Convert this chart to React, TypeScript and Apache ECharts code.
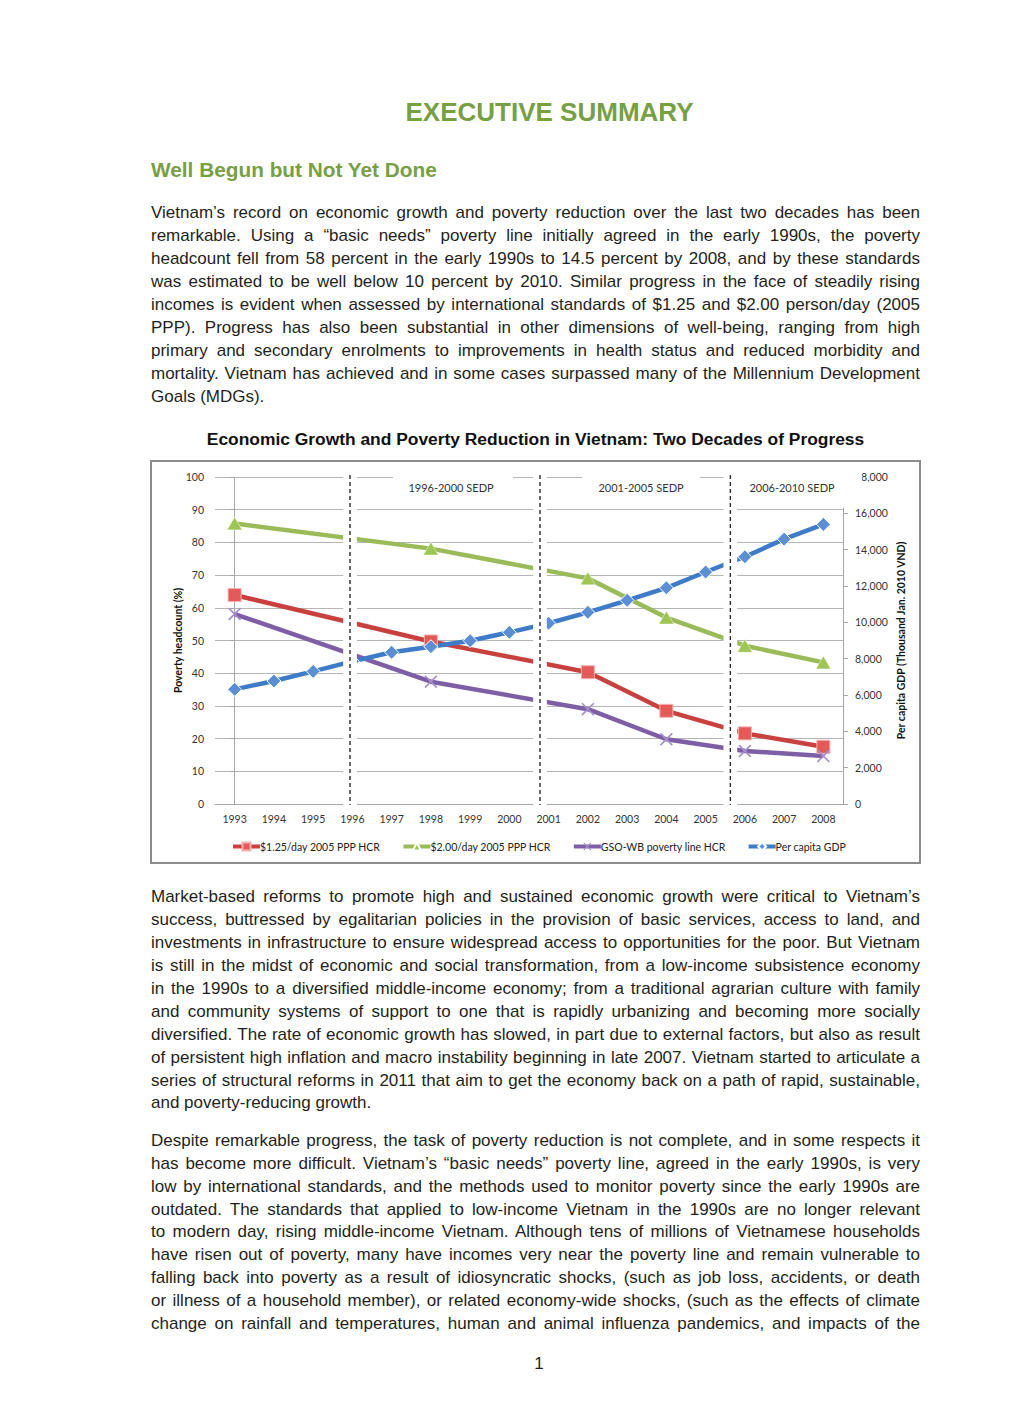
import React, { useEffect, useRef } from 'react';
import * as echarts from 'echarts';

// ---------- chart data ----------
const years = ['1993', '1994', '1995', '1996', '1997', '1998', '1999', '2000', '2001', '2002', '2003', '2004', '2005', '2006', '2007', '2008'];
const hcr125 = [63.9, null, null, null, null, 49.7, null, null, null, 40.3, null, 28.5, null, 21.6, null, 17.5];
const hcr200 = [85.8, null, null, null, null, 78.1, null, null, null, 69.0, null, 57.0, null, 48.4, null, 43.3];
const gsoWb = [58.1, null, null, null, null, 37.4, null, null, null, 29.0, null, 19.8, null, 16.2, null, 14.7];
const gdp = [6310, 6770, 7300, 7850, 8350, 8660, 8990, 9450, 9950, 10550, 11210, 11900, 12770, 13610, 14580, 15390];
const seriesNames = ['$1.25/day 2005 PPP HCR', '$2.00/day 2005 PPP HCR', 'GSO-WB poverty line HCR', 'Per capita GDP'];
const planLabels = ['1996-2000 SEDP', '2001-2005 SEDP', '2006-2010 SEDP'];
// period dividers, in category-index units (0 = 1993)
const dividers = [2.94, 7.78, 12.63];

// ---------- page text ----------
const para1 = [
  'Vietnam’s record on economic growth and poverty reduction over the last two decades has been',
  'remarkable.  Using a “basic needs” poverty line initially agreed in the early 1990s, the poverty',
  'headcount fell from 58 percent in the early 1990s to 14.5 percent by 2008, and by these standards',
  'was estimated to be well below 10 percent by 2010.  Similar progress in the face of steadily rising',
  'incomes is evident when assessed by international standards of $1.25 and $2.00 person/day (2005',
  'PPP).  Progress has also been substantial in other dimensions of well-being, ranging from high',
  'primary and secondary enrolments to improvements in health status and reduced morbidity and',
  'mortality. Vietnam has achieved and in some cases surpassed many of the Millennium Development',
  'Goals (MDGs).',
];
const para2 = [
  'Market-based reforms to promote high and sustained economic growth were critical to Vietnam’s',
  'success, buttressed by egalitarian policies in the provision of basic services, access to land, and',
  'investments in infrastructure to ensure widespread access to opportunities for the poor. But Vietnam',
  'is still in the midst of economic and social transformation, from a low-income subsistence economy',
  'in the 1990s to a diversified middle-income economy; from a traditional agrarian culture with family',
  'and community systems of support to one that is rapidly urbanizing and becoming more socially',
  'diversified. The rate of economic growth has slowed, in part due to external factors, but also as result',
  'of persistent high inflation and macro instability beginning in late 2007. Vietnam started to articulate a',
  'series of structural reforms in 2011 that aim to get the economy back on a path of rapid, sustainable,',
  'and poverty-reducing growth.',
];
const para3 = [
  'Despite remarkable progress, the task of poverty reduction is not complete, and in some respects it',
  'has become more difficult. Vietnam’s “basic needs” poverty line, agreed in the early 1990s, is very',
  'low by international standards, and the methods used to monitor poverty since the early 1990s are',
  'outdated. The standards that applied to low-income Vietnam in the 1990s are no longer relevant',
  'to modern day, rising middle-income Vietnam. Although tens of millions of Vietnamese households',
  'have risen out of poverty, many have incomes very near the poverty line and remain vulnerable to',
  'falling back into poverty as a result of idiosyncratic shocks, (such as job loss, accidents, or death',
  'or illness of a household member), or related economy-wide shocks, (such as the effects of climate',
  'change on rainfall and temperatures, human and animal influenza pandemics, and impacts of the',
];

const GREEN = '#77a043';
const TEXT = '#231f20';
const SANS = '"Liberation Sans", Arial, Helvetica, sans-serif';
const CHART_FONT = 'Lato, "Open Sans", sans-serif';

const X_PATH = 'path://M0,0.9L0.9,0L5,4.1L9.1,0L10,0.9L5.9,5L10,9.1L9.1,10L5,5.9L0.9,10L0,9.1L4.1,5Z';

function Paragraph({ lines, top, step, lastJustified }: { lines: string[]; top: number; step: number; lastJustified: boolean }) {
  return (
    <>
      {lines.map((ln, i) => {
        const justify = i < lines.length - 1 || lastJustified;
        return (
          <div
            key={i}
            style={{
              position: 'absolute',
              left: 151,
              top: top + i * step,
              width: 769,
              height: step,
              lineHeight: step + 'px',
              fontSize: 17,
              color: TEXT,
              textAlign: justify ? 'justify' : 'left',
              textAlignLast: justify ? 'justify' : 'left',
              wordSpacing: justify ? '-1.5px' : undefined,
            } as React.CSSProperties}
          >
            {ln}
          </div>
        );
      })}
    </>
  );
}

function Chart() {
  const ref = useRef<HTMLDivElement>(null);
  useEffect(() => {
    if (!ref.current) return;
    const chart = echarts.init(ref.current, undefined, { renderer: 'svg' });
    const lineBase = (name: string, data: (number | null)[], color: string, yAxisIndex: number) => ({
      name,
      type: 'line',
      data,
      yAxisIndex,
      xAxisIndex: 0,
      connectNulls: true,
      z: 2,
      lineStyle: { color, width: 4.5 },
    });
    const option: any = {
      animation: false,
      textStyle: { fontFamily: CHART_FONT },
      grid: { left: 63, right: 76, top: 15, bottom: 58 },
      legend: {
        data: seriesNames,
        left: 79,
        top: 379,
        padding: 0,
        itemWidth: 27,
        itemHeight: 10,
        itemGap: 21,
        lineStyle: { width: 4 },
        textStyle: { fontFamily: CHART_FONT, fontSize: 10.5, color: '#222', padding: [0, 0, 0, -5] },
      },
      xAxis: [
        {
          type: 'category',
          data: years,
          boundaryGap: true,
          axisLine: { show: true, lineStyle: { color: '#a6a6a6', width: 1 } },
          axisTick: { show: false },
          axisLabel: { color: '#333', fontSize: 10.5, margin: 9, fontFamily: CHART_FONT },
        },
        { type: 'value', min: -0.5, max: 15.5, show: false },
      ],
      yAxis: [
        {
          type: 'value',
          min: 0,
          max: 100,
          interval: 10,
          name: 'Poverty headcount (%)',
          nameLocation: 'middle',
          nameRotate: 90,
          nameGap: 32,
          nameMoveOverlap: false,
          nameTextStyle: { fontFamily: CHART_FONT, fontWeight: 'bold', fontSize: 10.5, color: '#111' },
          axisLine: { show: true, lineStyle: { color: '#a6a6a6' } },
          axisTick: { show: true, inside: false, length: 5, lineStyle: { color: '#a6a6a6' } },
          axisLabel: { color: '#333', fontSize: 10.5, margin: 11, fontFamily: CHART_FONT },
          splitLine: { show: true, lineStyle: { color: '#b5b5b5', width: 1 } },
        },
        {
          type: 'value',
          min: 0,
          max: 18000,
          interval: 2000,
          position: 'right',
          name: 'Per capita GDP (Thousand Jan. 2010 VND)',
          nameLocation: 'middle',
          nameRotate: 90,
          nameGap: 52,
          nameMoveOverlap: false,
          nameTextStyle: { fontFamily: CHART_FONT, fontWeight: 'bold', fontSize: 10.5, color: '#111' },
          axisLine: { show: true, lineStyle: { color: '#a6a6a6' } },
          axisTick: { show: true, inside: false, length: 5, lineStyle: { color: '#a6a6a6' } },
          axisLabel: {
            color: '#333',
            fontSize: 10.5,
            margin: 12,
            fontFamily: CHART_FONT,
            formatter: (v: number) => v.toLocaleString('en-US'),
          },
          splitLine: { show: false },
        },
      ],
      series: [
        {
          ...lineBase(seriesNames[0], hcr125, '#c9413e', 0),
          symbol: 'rect',
          symbolSize: 13,
          itemStyle: { color: '#e35a58', borderColor: '#f6b0ae', borderWidth: 1 },
        },
        {
          ...lineBase(seriesNames[1], hcr200, '#9bbb59', 0),
          symbol: 'triangle',
          symbolSize: [15, 13],
          itemStyle: { color: '#9dc653', borderColor: '#ffffff', borderWidth: 0.5 },
        },
        {
          ...lineBase(seriesNames[2], gsoWb, '#7e5fa6', 0),
          symbol: X_PATH,
          symbolSize: 13,
          itemStyle: { color: '#a58fcb' },
        },
        {
          ...lineBase(seriesNames[3], gdp, '#3e7bc8', 1),
          symbol: 'diamond',
          symbolSize: 14,
          itemStyle: { color: '#5a8fd6', borderColor: '#ffffff', borderWidth: 1 },
        },
        {
          name: '__dividers',
          type: 'custom',
          xAxisIndex: 1,
          yAxisIndex: 0,
          z: 10,
          silent: true,
          clip: false,
          data: dividers.map((d) => [d]),
          renderItem: (params: any, api: any) => {
            const cs = params.coordSys;
            const x = api.coord([api.value(0), 0])[0];
            const half = api.size([0.175, 0])[0];
            return {
              type: 'group',
              children: [
                {
                  type: 'rect',
                  shape: { x: x - half, y: cs.y - 0.5, width: half * 2, height: cs.height + 1.5 },
                  style: { fill: '#ffffff' },
                },
                {
                  type: 'line',
                  shape: { x1: x, y1: cs.y - 2, x2: x, y2: cs.y + cs.height + 1 },
                  style: { stroke: '#2b2b2b', lineWidth: 1.4, lineDash: [4, 3] },
                },
              ],
            };
          },
        },
      ],
      graphic: [
        { type: 'rect', z: 100, shape: { x: 241, y: 6, width: 120, height: 32 }, style: { fill: '#ffffff' } },
        { type: 'rect', z: 100, shape: { x: 430, y: 6, width: 118, height: 32 }, style: { fill: '#ffffff' } },
        { type: 'rect', z: 100, shape: { x: 585, y: 4, width: 125, height: 42 }, style: { fill: '#ffffff' } },
        ...planLabels.map((t, i) => ({
          type: 'text',
          z: 101,
          x: [299, 489, 640][i],
          y: 25,
          style: { text: t, fill: '#333', fontSize: 11, fontFamily: CHART_FONT, align: 'center', verticalAlign: 'middle' },
        })),
      ],
    };
    chart.setOption(option);
    return () => chart.dispose();
  }, []);
  return <div ref={ref} style={{ width: 767, height: 400 }} />;
}

export default function App() {
  return (
    <div style={{ position: 'absolute', left: 0, top: 0, width: 1020, height: 1418, background: '#fff', fontFamily: SANS, overflow: 'hidden' }}>
      <div style={{ position: 'absolute', left: 0, width: 1099, top: 99, lineHeight: '26px', fontSize: 26, fontWeight: 'bold', color: GREEN, textAlign: 'center' }}>
        EXECUTIVE SUMMARY
      </div>
      <div style={{ position: 'absolute', left: 151, top: 159, lineHeight: '21px', fontSize: 20.8, fontWeight: 'bold', color: GREEN }}>
        Well Begun but Not Yet Done
      </div>
      <Paragraph lines={para1} top={202.4} step={22.9} lastJustified={false} />
      <div style={{ position: 'absolute', left: 0, width: 1071, top: 430, lineHeight: '18px', fontSize: 17.4, fontWeight: 'bold', color: '#111', textAlign: 'center' }}>
        Economic Growth and Poverty Reduction in Vietnam: Two Decades of Progress
      </div>
      <div style={{ position: 'absolute', left: 150, top: 460, width: 771, height: 404, border: '2px solid #8c8c8c', boxSizing: 'border-box' }}>
        <Chart />
      </div>
      <Paragraph lines={para2} top={886.4} step={22.89} lastJustified={false} />
      <Paragraph lines={para3} top={1130.4} step={22.77} lastJustified={true} />
      <div style={{ position: 'absolute', left: 0, width: 1078, top: 1354, lineHeight: '20px', fontSize: 17, color: TEXT, textAlign: 'center' }}>1</div>
    </div>
  );
}
